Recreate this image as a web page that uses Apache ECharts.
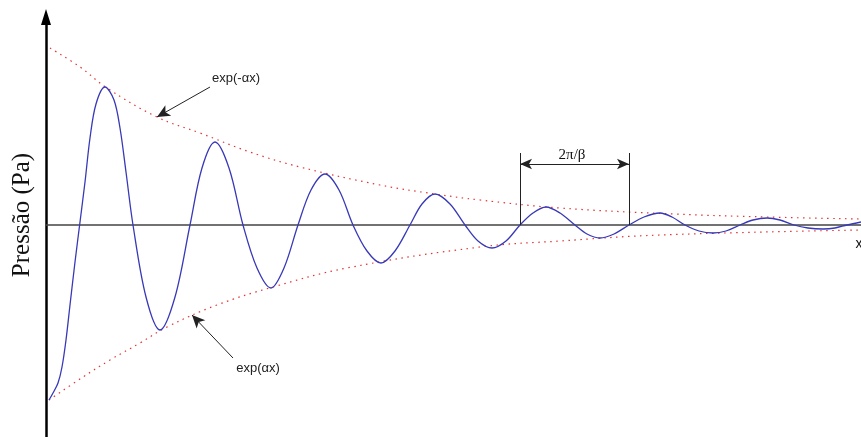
<!DOCTYPE html>
<html>
<head>
<meta charset="utf-8">
<script src="https://cdn.jsdelivr.net/npm/echarts@6/dist/echarts.min.js"></script>
<style>html,body{margin:0;padding:0;background:#fff;}#c{width:861px;height:437px;}</style>
</head>
<body>
<div id="c"></div>
<script>
// Damped pressure wave (x: arbitrary units, y: pressure, arbitrary units)
const waveX = [3, 7, 12, 16, 20, 24, 29, 34, 39, 44, 50, 59, 68, 74, 80, 87,
  100, 114, 129, 144, 156, 169, 183, 197, 211, 225, 238, 252, 265, 279, 293, 307,
  321, 335, 349, 364, 376, 389, 404, 419, 432, 446, 460, 474, 487, 500, 514, 529,
  541, 554, 568, 583, 598, 614, 626, 639, 653, 667, 680, 694, 707, 721, 734, 748,
  762, 777, 789, 801, 815];
const waveY = [-175, -168, -158, -142, -115, -80, -37, 3, 43, 87, 121, 138, 125, 97, 53, 0,
  -72, -105, -72, 0, 57, 83, 57, 0, -43, -63, -43, 0, 35, 51, 35, 0,
  -26, -38, -26, 0, 21, 31, 21, 0, -16, -23, -16, 0, 12, 18, 12, 0,
  -9, -13, -9, 0, 8, 12, 8, 0, -6, -8, -6, 0, 5, 7, 5, 0,
  -3, -4, -3, 0, 3];

const upperX = [4, 34, 61, 111, 154, 204, 254, 334, 389, 434, 514, 629, 721, 814];
const upperY = [177, 158, 137, 108, 92, 73, 58, 40, 31, 25, 17, 11, 8, 6];

const lowerX = [3, 37, 64, 94, 121, 171, 227, 301, 434, 514, 614, 814];
const lowerY = [-175, -152, -135, -118, -102, -80, -62, -43, -22, -16, -10, -5];

// annotation anchors (data units)
const upperArrow = [[164, 138], [111, 108]];
const lowerArrow = [[187, -133], [146, -90]];
const periodStart = 474, periodEnd = 583, periodLevel = 61, periodTop = 72;
const labels = [
  {text: 'exp(-αx)', at: [190, 147]},
  {text: 'exp(αx)', at: [212, -143]}
];
const periodLabel = {text: '2π/β', at: [526, 70]};
const xLabel = {text: 'x', at: [809, -19]};

const zip = (a, b) => a.map((v, i) => [v, b[i]]);

const chart = echarts.init(document.getElementById('c'), null, {renderer: 'canvas'});
const sansLabel = {fontFamily: 'Liberation Sans, Arial, sans-serif', fontSize: 13, color: '#222'};

chart.setOption({
  animation: false,
  backgroundColor: '#fff',
  grid: {left: 46, right: 0, top: 17, bottom: 0},
  xAxis: {
    type: 'value', min: 0, max: 815,
    axisLine: {show: true, onZero: true, lineStyle: {color: '#444', width: 1.5}},
    axisTick: {show: false}, axisLabel: {show: false}, splitLine: {show: false}
  },
  yAxis: {
    type: 'value', min: -212, max: 208,
    axisLine: {show: true, onZero: false, symbol: ['none', 'triangle'], symbolSize: [10, 16],
      lineStyle: {color: '#000', width: 2.5}},
    axisTick: {show: false}, axisLabel: {show: false}, splitLine: {show: false}
  },
  graphic: [{
    type: 'text', x: 22, y: 215, rotation: Math.PI / 2,
    style: {text: 'Pressão (Pa)', font: '25px "Liberation Serif", "Times New Roman", serif',
      fill: '#111', align: 'center', verticalAlign: 'middle'}
  }],
  series: [
    {
      type: 'line', data: zip(upperX, upperY), smooth: 0.4, showSymbol: false, silent: true,
      lineStyle: {color: '#e03535', width: 1.2, type: [1.5, 4.5]}
    },
    {
      type: 'line', data: zip(lowerX, lowerY), smooth: 0.4, showSymbol: false, silent: true,
      lineStyle: {color: '#e03535', width: 1.2, type: [1.5, 4.5]}
    },
    {
      type: 'line', data: zip(waveX, waveY), smooth: 0.33, showSymbol: false, silent: true,
      lineStyle: {color: '#3838b8', width: 1.3}, z: 3,
      markLine: {
        silent: true, animation: false,
        label: {show: false},
        lineStyle: {color: '#222', width: 1, type: 'solid'},
        symbol: ['none', 'none'],
        data: [
          [{coord: upperArrow[0], symbol: 'none'}, {coord: upperArrow[1], symbol: 'arrow', symbolSize: [9, 13]}],
          [{coord: lowerArrow[0], symbol: 'none'}, {coord: lowerArrow[1], symbol: 'arrow', symbolSize: [9, 13]}],
          [{coord: [periodStart, 0], symbol: 'none'}, {coord: [periodStart, periodTop], symbol: 'none'}],
          [{coord: [periodEnd, 0], symbol: 'none'}, {coord: [periodEnd, periodTop], symbol: 'none'}],
          [{coord: [periodStart, periodLevel], symbol: 'arrow', symbolSize: [8, 12]},
           {coord: [periodEnd, periodLevel], symbol: 'arrow', symbolSize: [8, 12]}]
        ]
      },
      markPoint: {
        silent: true, animation: false,
        symbol: 'rect', symbolSize: 1, itemStyle: {color: 'rgba(0,0,0,0)'},
        data: [
          ...labels.map(l => ({coord: l.at, label: Object.assign({show: true, position: 'inside', formatter: l.text}, sansLabel)})),
          {coord: periodLabel.at, label: {show: true, position: 'inside', formatter: periodLabel.text,
            fontFamily: 'Liberation Serif, Times New Roman, serif', fontSize: 15, color: '#111'}},
          {coord: xLabel.at, label: {show: true, position: 'right', distance: 0, formatter: xLabel.text,
            fontFamily: 'Liberation Sans, Arial, sans-serif', fontSize: 14, color: '#111'}}
        ]
      }
    }
  ]
});
</script>
</body>
</html>
